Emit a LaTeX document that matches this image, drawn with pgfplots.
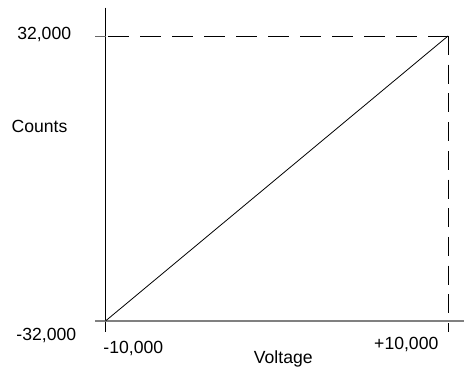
\documentclass[border=0pt]{standalone}
\usepackage{pgfplots}
\pgfplotsset{compat=1.18}
\usepackage{fontspec}
\setmainfont{Liberation Sans}
\begin{document}
\begin{tikzpicture}
\path[use as bounding box] (0,0) rectangle (464pt,368pt);
\begin{axis}[
  at={(0,0)}, anchor=south west,
  scale only axis, width=464pt, height=368pt,
  xmin=-16160.6, xmax=10934.3,
  ymin=-42554.4, ymax=40084.8,
  hide axis, clip=false,
]
% axes
\addplot[black, line width=0.9pt] coordinates {(-10000,38399.6) (-10000,-34357.9)};
\addplot[gray, line width=1.2pt] coordinates {(-10613.1,-32000) (10934.3,-32000)};
\addplot[gray!80!black, line width=1pt] coordinates {(-10613.1,32000) (-10000,32000)};
% guide lines
\addplot[black, line width=0.9pt, dash pattern=on 21pt off 11pt] coordinates {(-9854,32000) (10030,32000)};
\addplot[black, line width=0.9pt, dash pattern=on 19pt off 9.7pt] coordinates {(10000,32000) (10000,-34357.9)};
% data
\addplot[black, line width=0.8pt] coordinates {(-10000,-32000) (10000,32000)};
\end{axis}
\begin{scope}[every node/.style={inner sep=0pt, anchor=base, font=\fontsize{17.6}{20}\selectfont}]
\node at (44.2pt,{(368-39.3)*1pt}) {32,000};
\node at (39.5pt,{(368-132.3)*1pt}) {Counts};
\node at (46.3pt,{(368-340)*1pt}) {-32,000};
\node at (133.3pt,{(368-353.5)*1pt}) {-10,000};
\node at (406.3pt,{(368-349)*1pt}) {+10,000};
\node at (283.3pt,{(368-363)*1pt}) {Voltage};
\end{scope}
\end{tikzpicture}
\end{document}
